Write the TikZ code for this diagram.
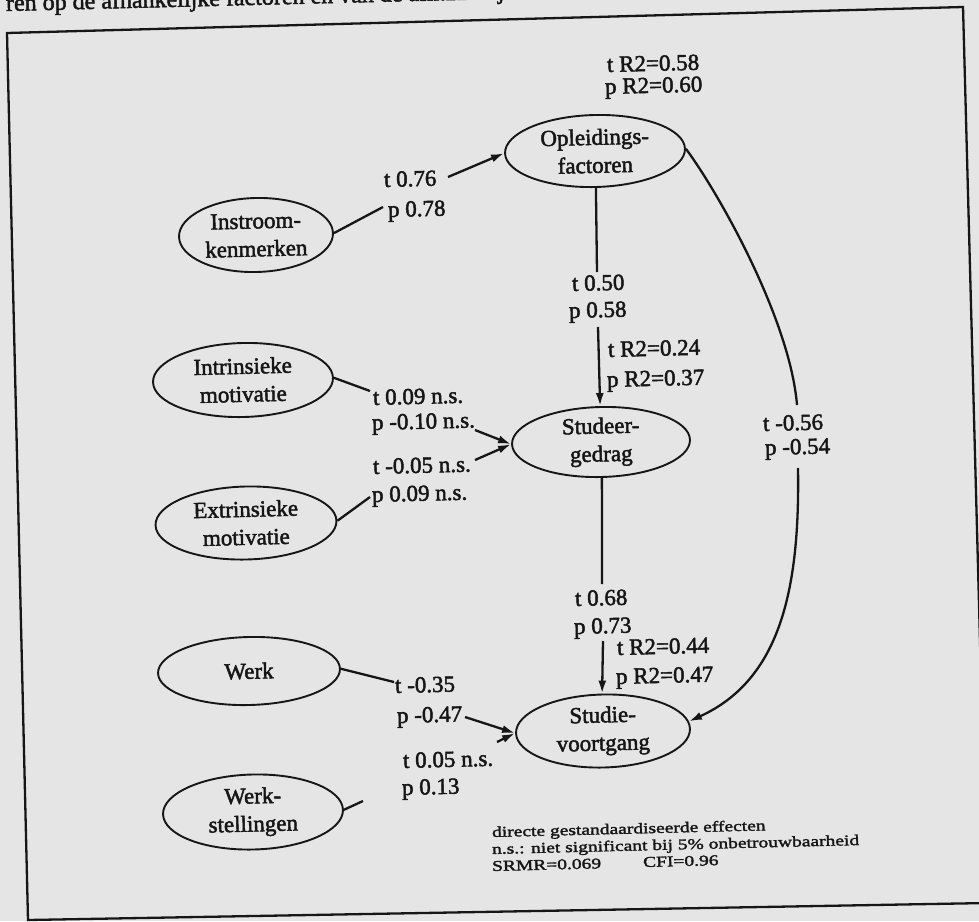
\documentclass[tikz,border=0pt]{standalone}
\usepackage{fontspec}
\setmainfont{Liberation Serif}[FakeBold=2]
\newfontfamily\legendfont{Liberation Serif}[FakeStretch=1.3,FakeBold=2]
\usetikzlibrary{shapes.geometric,arrows.meta}
\definecolor{paper}{RGB}{229,229,229}
\definecolor{ink}{RGB}{22,22,22}
\begin{document}
\begin{tikzpicture}[x=1pt,y=-1pt,
  tilt/.style={rotate=1.4},
  factor/.style={ellipse, draw=ink, line width=1.9pt, inner sep=-10pt,
    align=center, font=\fontsize{23}{28}\selectfont, text=ink, tilt},
  lbl/.style={anchor=base west, inner sep=0pt,
    font=\fontsize{23}{28}\selectfont, text=ink, tilt},
  legend/.style={anchor=base west, inner sep=0pt,
    font=\legendfont\fontsize{15}{16}\selectfont, text=ink, tilt},
  conn/.style={draw=ink, line width=2.3pt},
  arr/.style={conn, -{Latex[length=13pt,width=8pt]}}
]
\useasboundingbox (0,0) rectangle (979,921);
\fill[paper] (0,0) rectangle (979,921);
\clip (0,0) rectangle (979,921);

% running text of the page above the figure
\node[anchor=base west, inner sep=0pt, font=\fontsize{24}{28}\selectfont,
  text=ink, tilt] (toptext) at (6,11)
  {ren op de afhankelijke factoren en van de afhankelijke};

% figure frame
\draw[ink, line width=2.3pt] (7,33) -- (963,7) -- (987,903) -- (28,920) -- cycle;

% factors
\node[factor, minimum width=180pt, minimum height=72pt] (opl)   at (595,151) {Opleidings-\\factoren};
\node[factor, minimum width=154pt, minimum height=74pt] (instr) at (256,235) {Instroom-\\kenmerken};
\node[factor, minimum width=180pt, minimum height=74pt] (intr)  at (243,380) {Intrinsieke\\motivatie};
\node[factor, minimum width=181pt, minimum height=73pt] (extr)  at (246,523) {Extrinsieke\\motivatie};
\node[factor, minimum width=178pt, minimum height=70pt] (stud)  at (601,442) {Studeer-\\gedrag};
\node[factor, minimum width=182pt, minimum height=68pt] (werk)  at (249,671) {Werk};
\node[factor, minimum width=174pt, minimum height=73pt] (voort) at (603,731) {Studie-\\voortgang};
\node[factor, minimum width=180pt, minimum height=75pt] (wst)   at (253,812) {Werk-\\stellingen};

% coefficients
\node[lbl] (r58)  at (607,72)  {t R2=0.58};
\node[lbl] (r60)  at (605,94)  {p R2=0.60};
\node[lbl] (t76)  at (384,187) {t 0.76};
\node[lbl] (p78)  at (388,217) {p 0.78};
\node[lbl] (t50)  at (572,291) {t 0.50};
\node[lbl] (p58)  at (569,318) {p 0.58};
\node[lbl] (r24)  at (608,357) {t R2=0.24};
\node[lbl] (r37)  at (607,387) {p R2=0.37};
\node[lbl] (t09)  at (373,405) {t 0.09 n.s.};
\node[lbl] (p10)  at (372,430) {p -0.10 n.s.};
\node[lbl] (t05)  at (373,474) {t -0.05 n.s.};
\node[lbl] (p09)  at (372,502) {p 0.09 n.s.};
\node[lbl] (t56)  at (763,431) {t -0.56};
\node[lbl] (p54)  at (765,455) {p -0.54};
\node[lbl] (t68)  at (575,606) {t 0.68};
\node[lbl] (p73)  at (574,634) {p 0.73};
\node[lbl] (r44)  at (617,655) {t R2=0.44};
\node[lbl] (r47)  at (616,684) {p R2=0.47};
\node[lbl] (t35)  at (395,693) {t -0.35};
\node[lbl] (p47)  at (397,723) {p -0.47};
\node[lbl] (t05b) at (403,768) {t 0.05 n.s.};
\node[lbl] (p13)  at (402,795) {p 0.13};

% legend
\node[legend] (lg1) at (492,837) {directe gestandaardiseerde effecten};
\node[legend] (lg2) at (492,854) {n.s.: niet significant bij 5\% onbetrouwbaarheid};
\node[legend] (lg3) at (492,871) {SRMR=0.069};
\node[legend] (lg4) at (643,867) {CFI=0.96};

% break points of the paths around the coefficients
\coordinate (a1) at (383,207);
\coordinate (a2) at (448,177);
\coordinate (b1) at (370,391);
\coordinate (b2) at (475,430);
\coordinate (c1) at (370,497);
\coordinate (c2) at (475,460);
\coordinate (d1) at (394,682);
\coordinate (d2) at (465,717);
\coordinate (e1) at (363,801);
\coordinate (e2) at (497,742);
\coordinate (f1) at (597,272);
\coordinate (f2) at (598,327);
\coordinate (g1) at (602,584);
\coordinate (g2) at (603,641);
\coordinate (h1) at (797,405);
\coordinate (h2) at (798,468);

% paths
\draw[conn] (instr.east) -- (a1);
\draw[arr]  (a2) -- (opl.west);
\draw[conn] (intr.east) -- (b1);
\draw[arr]  (b2) -- (stud.west);
\draw[conn] (extr.east) -- (c1);
\draw[arr]  (c2) -- (stud.west);
\draw[conn] (werk.east) -- (d1);
\draw[arr]  (d2) -- (voort.west);
\draw[conn] (wst.east) -- (e1);
\draw[arr]  (e2) -- (voort.west);
\draw[conn] (opl.south) -- (f1);
\draw[arr]  (f2) -- (stud.north);
\draw[conn] (stud.south) -- (g1);
\draw[arr]  (g2) -- (voort.north);
\draw[conn] (opl.east) .. controls (720,195) and (790,320) .. (h1);
\draw[arr]  (h2) .. controls (800,590) and (780,680) .. (voort.5);
\end{tikzpicture}
\end{document}
